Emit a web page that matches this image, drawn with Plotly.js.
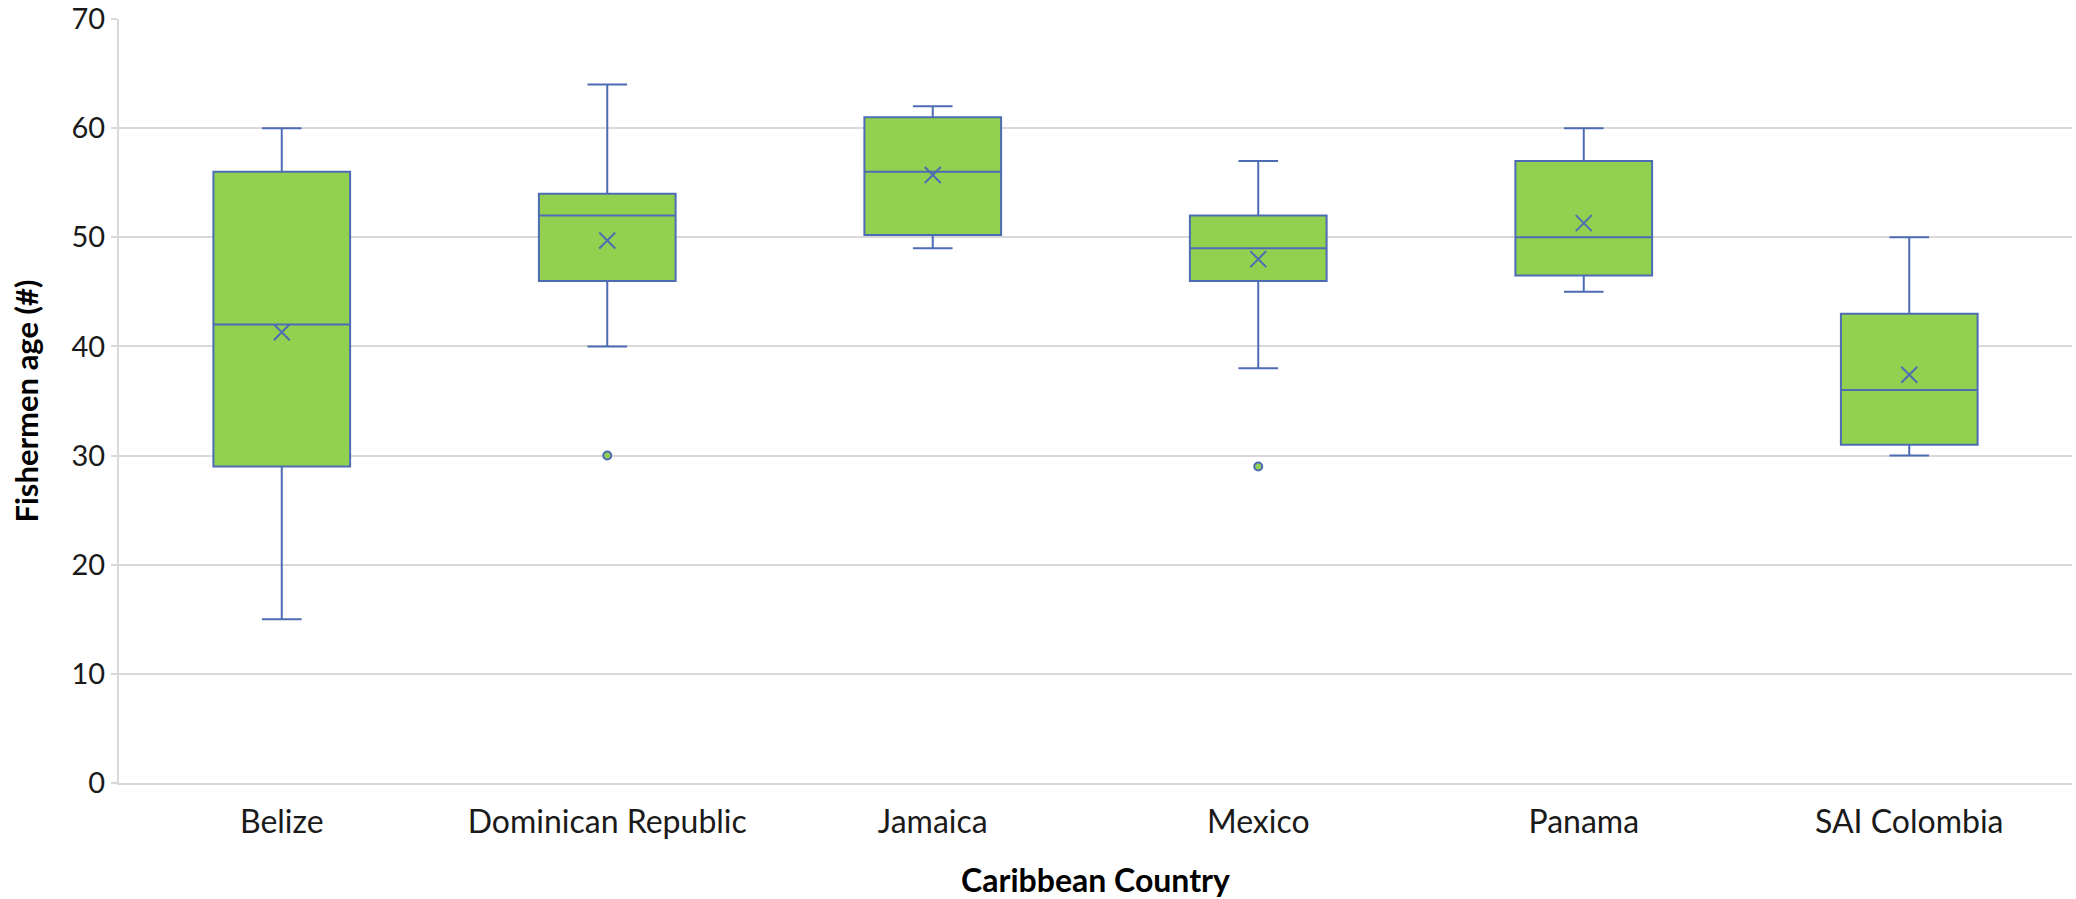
<!DOCTYPE html>
<html>
<head>
<meta charset="utf-8">
<script src="https://cdn.plot.ly/plotly-3.0.1.min.js"></script>
<style>
  html, body { margin: 0; padding: 0; background: #ffffff; }
  #chart { width: 2076px; height: 899px; }
</style>
</head>
<body>
<div id="chart"></div>
<script>
// Categories (x axis)
const categories = ['Belize', 'Dominican Republic', 'Jamaica', 'Mexico', 'Panama', 'SAI Colombia'];

// Box statistics (fishermen age)
const lowerWhisker = [15, 40, 49, 38, 45, 30];
const quartile1    = [29, 46, 50.2, 46, 46.5, 31];
const medians      = [42, 52, 56, 49, 50, 36];
const quartile3    = [56, 54, 61, 52, 57, 43];
const upperWhisker = [60, 64, 62, 57, 60, 50];
const means        = [41.3, 49.7, 55.7, 48.0, 51.3, 37.4];

// Outliers
const outlierCountries = ['Dominican Republic', 'Mexico'];
const outlierAges      = [30, 29];

// Y tick values
const yTicks = [0, 10, 20, 30, 40, 50, 60, 70];

const blue = '#4D6CB3';
const green = '#92D050';
const grid = '#D9D9D9';
const fontFamily = 'Lato, "Open Sans", sans-serif';

const boxTrace = {
  type: 'box',
  x: categories,
  q1: quartile1,
  median: medians,
  q3: quartile3,
  lowerfence: lowerWhisker,
  upperfence: upperWhisker,
  boxpoints: false,
  boxmean: false,
  width: 0.42,
  whiskerwidth: 0.29,
  fillcolor: green,
  line: { color: blue, width: 2 },
  hoverinfo: 'skip',
  showlegend: false
};

const meanTrace = {
  type: 'scatter',
  mode: 'markers',
  x: categories,
  y: means,
  marker: { symbol: 'x-thin', size: 16, color: blue, line: { color: blue, width: 2 } },
  hoverinfo: 'skip',
  showlegend: false
};

const outlierTrace = {
  type: 'scatter',
  mode: 'markers',
  x: outlierCountries,
  y: outlierAges,
  marker: { symbol: 'circle', size: 8, color: green, line: { color: blue, width: 2 } },
  hoverinfo: 'skip',
  showlegend: false
};

const layout = {
  width: 2076,
  height: 899,
  margin: { l: 119, r: 4, t: 19, b: 116 },
  paper_bgcolor: '#ffffff',
  plot_bgcolor: '#ffffff',
  showlegend: false,
  font: { family: fontFamily, color: '#1a1a1a' },
  xaxis: {
    type: 'category',
    categoryorder: 'array',
    categoryarray: categories,
    range: [-0.5, 5.5],
    showgrid: false,
    showline: true,
    linecolor: grid,
    linewidth: 2,
    ticks: '',
    tickfont: { family: fontFamily, size: 32, color: '#1a1a1a' },
    ticklabelstandoff: 10,
    title: {
      text: 'Caribbean Country',
      font: { family: fontFamily, size: 32, color: '#000000', weight: 'bold' },
      standoff: 30
    },
    zeroline: false,
    fixedrange: true
  },
  yaxis: {
    range: [0, 70],
    tickvals: yTicks,
    ticktext: yTicks.map(String),
    showgrid: true,
    gridcolor: grid,
    gridwidth: 2,
    showline: true,
    linecolor: grid,
    linewidth: 2,
    ticks: 'outside',
    ticklen: 6,
    tickwidth: 2,
    tickcolor: grid,
    tickfont: { family: fontFamily, size: 29, color: '#1a1a1a' },
    title: {
      text: 'Fishermen age (#)',
      font: { family: fontFamily, size: 31, color: '#000000', weight: 'bold' },
      standoff: 24
    },
    zeroline: false,
    fixedrange: true
  }
};

Plotly.newPlot('chart', [boxTrace, meanTrace, outlierTrace], layout, { displayModeBar: false, staticPlot: true });
</script>
</body>
</html>
